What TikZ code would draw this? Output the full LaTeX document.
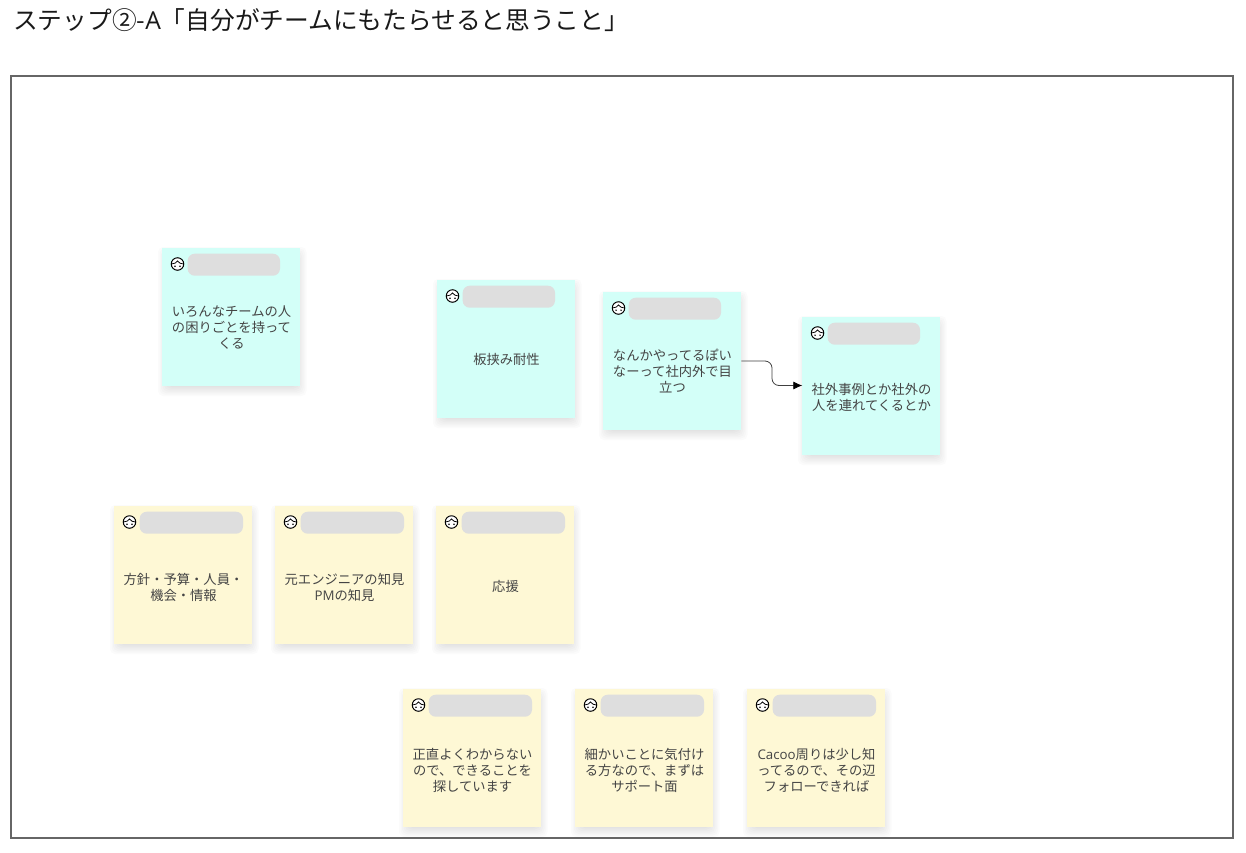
\documentclass[tikz,border=0pt]{standalone}
\usepackage{fontspec}
\setmainfont{Noto Sans CJK JP}
\newfontfamily\latinf{Open Sans}
\definecolor{teal}{HTML}{D3FFF8}
\definecolor{cream}{HTML}{FEF8D5}
\definecolor{pill}{HTML}{DEDEDE}
\definecolor{ink}{HTML}{444444}
\definecolor{frameg}{HTML}{666666}
\tikzset{
  notebox/.style={minimum width=138pt,minimum height=138pt,inner sep=0pt,anchor=north west,outer sep=0pt},
  notetext/.style={font=\fontsize{13.3pt}{16pt}\selectfont,text=ink,align=center,text width=134pt,inner sep=0pt,anchor=center},
  pillbox/.style={fill=pill,rounded corners=7pt,draw=none,minimum height=22pt,inner sep=0pt,anchor=north west},
  faceic/.style={circle,draw=black,fill=white,line width=1pt,minimum size=12.5pt,inner sep=0pt},
  link/.style={draw=black!75,line width=0.8pt,rounded corners=7pt,-{Latex[length=9pt,width=8pt,black]}}
}
\usetikzlibrary{arrows.meta,calc}
\newcommand{\stickynote}[7]{% name x y colour pillwidth text
  \begin{scope}[shift={(#2,#3)}]
    \foreach \g in {-6,-4.5,...,6}{
      \fill[black,opacity=0.017,rounded corners=5pt] (2-\g,5-\g) rectangle (138.5+\g,142+\g);
    }
  \end{scope}
  \node[notebox,fill=#4] (#1) at (#2+0.3,#3) {};
  \node[pillbox,minimum width=#5 pt-0.7pt] (#1pill) at (#2+25.5,#3+5.5) {};
  \node[faceic] (#1face) at (#2+15.5,#3+16) {};
  \draw[black,line width=0.8pt] ($(#1face)+(-6,0)$) .. controls ($(#1face)+(-3,0)$) and ($(#1face)+(-1,-1.5)$) .. ($(#1face)+(0,-3)$) .. controls ($(#1face)+(1,-1)$) and ($(#1face)+(4,0)$) .. ($(#1face)+(6,0)$);
  \fill[black] ($(#1face)+(-2.5,2.2)$) circle (0.8) ($(#1face)+(2.5,2.2)$) circle (0.8);
  \node[notetext] (#1text) at (#2+69.5,#3+#6+0.5) {#7};
}
\begin{document}
\begin{tikzpicture}[x=1pt,y=-1pt]
\useasboundingbox (0,0) rectangle (1246,852);
\fill[white] (0,0) rectangle (1246,852);
\node[anchor=west,inner sep=0pt,font=\fontsize{24.7pt}{26pt}\selectfont,text=black!90] (title) at (13,20) {ステップ②-{\latinf A}「自分がチームにもたらせると思うこと」};
\node[draw=frameg,line width=2pt,fill=white,minimum width=1222pt,minimum height=762pt,inner sep=0pt,anchor=north west] (frame) at (10.2,75.4) {};
\stickynote{a}{162}{248}{teal}{93}{79}{いろんなチームの人\\の困りごとを持って\\くる}
\stickynote{b}{437}{280}{teal}{93}{79}{板挟み耐性}
\stickynote{c}{603}{292}{teal}{93}{79}{なんかやってるぽい\\なーって社内外で目\\立つ}
\stickynote{d}{802}{317}{teal}{93}{80}{社外事例とか社外の\\人を連れてくるとか}
\stickynote{e}{114}{506}{cream}{104}{81}{方針・予算・人員・\\機会・情報}
\stickynote{f}{275}{506}{cream}{104}{81}{元エンジニアの知見\\{\latinf PM}の知見}
\stickynote{g}{436}{506}{cream}{104}{80}{応援}
\stickynote{h}{403}{689}{cream}{104}{81}{正直よくわからない\\ので、できることを\\探しています}
\stickynote{i}{575}{689}{cream}{104}{81}{細かいことに気付け\\る方なので、まずは\\サポート面}
\stickynote{j}{747}{689}{cream}{104}{81}{{\latinf Cacoo}周りは少し知\\ってるので、その辺\\フォローできれば}
\draw[link] (c.east |- 0,361) -| (772,385.5) -- (d.west |- 0,385.5);
\end{tikzpicture}
\end{document}
